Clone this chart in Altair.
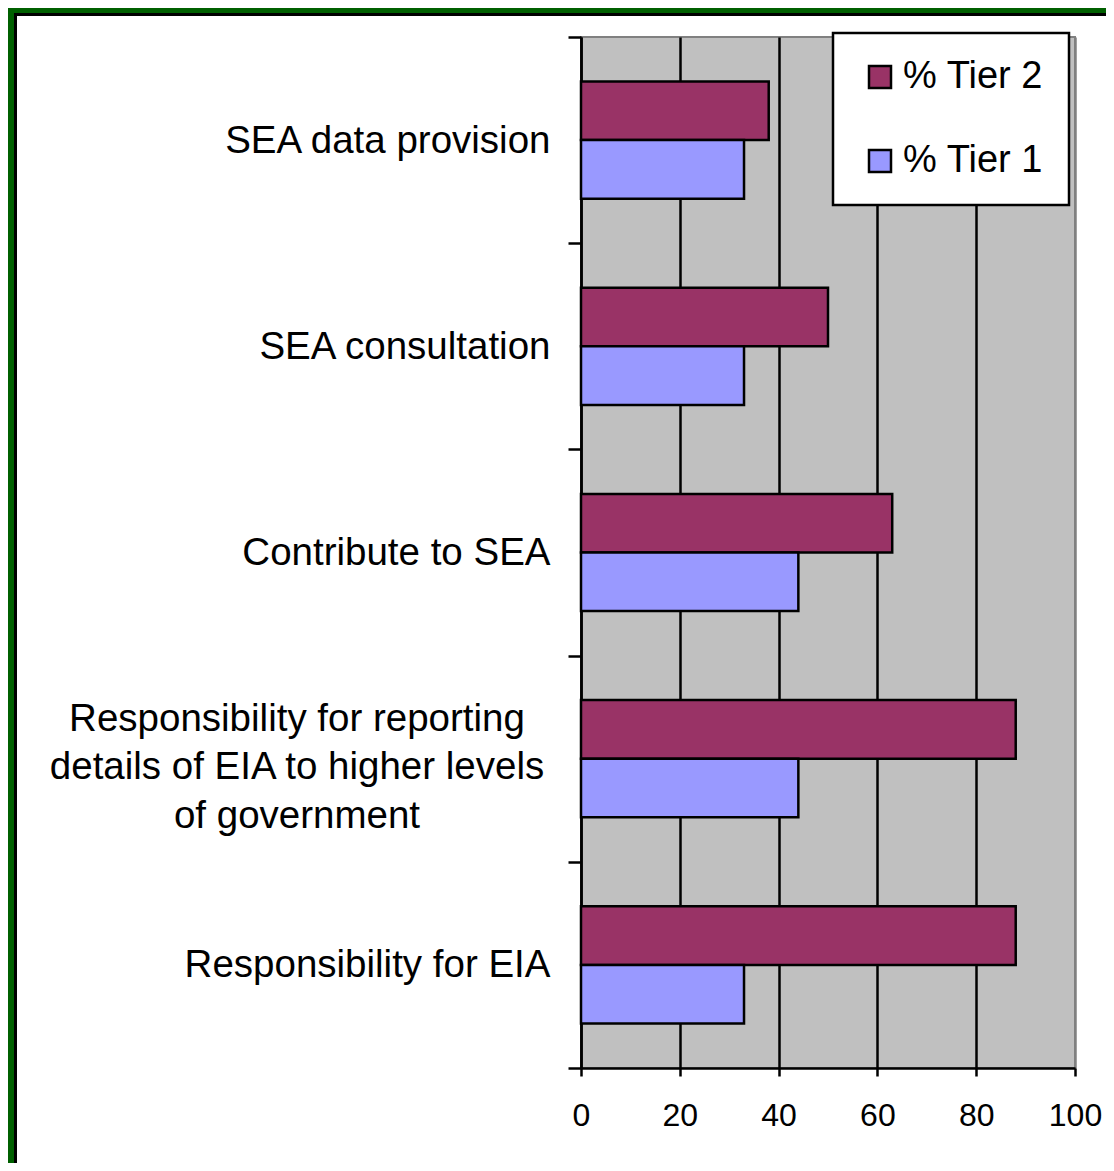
import altair as alt
import pandas as pd

# ---- data ----
categories = [
    "SEA data provision",
    "SEA consultation",
    "Contribute to SEA",
    "Responsibility for reporting\ndetails of EIA  to higher levels\nof government",
    "Responsibility for EIA",
]
tier2 = [38, 50, 63, 88, 88]
tier1 = [33, 33, 44, 44, 33]
series = ["% Tier 2", "% Tier 1"]
colors = ["#993366", "#9999FF"]
x_ticks = [0, 20, 40, 60, 80, 100]

rows = []
for c, v2, v1 in zip(categories, tier2, tier1):
    rows.append({"category": c, "series": series[0], "value": v2})
    rows.append({"category": c, "series": series[1], "value": v1})
df = pd.DataFrame(rows)

# ---- layout ----
W, H = 494, 1031
PAD_L, PAD_T = 573, 29
TOTAL_W, TOTAL_H = 1098, 1155
PAD_R = TOTAL_W - PAD_L - W
PAD_B = TOTAL_H - PAD_T - H
FONT = "Liberation Sans"
GREEN = "#006000"
LW = 2.5

y_axis = alt.Axis(
    title=None,
    tickBand="extent",
    domainColor="black",
    domainWidth=LW,
    tickColor="black",
    tickWidth=LW,
    tickSize=13,
    labelFont=FONT,
    labelFontSize=38.5,
    labelColor="black",
    labelPadding=18,
    labelLimit=800,
    labelOverlap=False,
    labelExpr="indexof(datum.label, '\\n') >= 0 ? '' : datum.label",
)

x_axis = alt.Axis(
    title=None,
    values=x_ticks,
    grid=True,
    gridColor={"condition": {"test": "datum.value === 100", "value": "#808080"}, "value": "black"},
    gridWidth=LW,
    gridOpacity=1,
    domainColor="black",
    domainWidth=LW,
    tickColor="black",
    tickWidth=LW,
    tickSize=8,
    labelFont=FONT,
    labelFontSize=32,
    labelColor="black",
    labelPadding=24,
    labelFlush=False,
    labelOverlap=False,
)

legend = alt.Legend(
    title=None,
    orient="none",
    legendX=252,
    legendY=-4,
    direction="vertical",
    fillColor="white",
    strokeColor="black",
    padding=25,
    symbolOffset=3,
    symbolType="square",
    symbolSize=484,
    symbolStrokeColor="black",
    symbolStrokeWidth=LW,
    labelFont=FONT,
    labelFontSize=38,
    labelColor="black",
    labelOffset=4,
    labelLimit=400,
    rowPadding=46,
)

bars = alt.Chart(df).mark_bar(stroke="black", strokeWidth=LW).encode(
    x=alt.X("value:Q", scale=alt.Scale(domain=[0, 100], nice=False), axis=x_axis),
    y=alt.Y("category:N", sort=categories,
            scale=alt.Scale(paddingInner=0, paddingOuter=0), axis=y_axis),
    yOffset=alt.YOffset("series:N", sort=series,
                        scale=alt.Scale(paddingInner=0, paddingOuter=0.76)),
    color=alt.Color("series:N", sort=series,
                    scale=alt.Scale(domain=series, range=colors), legend=legend),
)

multi_label = alt.Chart(df).transform_filter(
    "indexof(datum.category, '\\n') >= 0 && datum.series === '% Tier 2'"
).mark_text(
    align="center", baseline="middle", lineBreak="\n", font=FONT,
    fontSize=38.5, lineHeight=48.5, color="black", dy=-40,
).encode(
    y=alt.Y("category:N", sort=categories),
    x=alt.value(-284),
    text="category:N",
)

frame_data = alt.Data(values=[{"k": 0}])
green_left = alt.Chart(frame_data).mark_rect(color=GREEN).encode(
    x=alt.value(-PAD_L), x2=alt.value(-PAD_L + 6),
    y=alt.value(-PAD_T), y2=alt.value(H + PAD_B))
black_left = alt.Chart(frame_data).mark_rect(color="black").encode(
    x=alt.value(-PAD_L + 6), x2=alt.value(-PAD_L + 9),
    y=alt.value(-PAD_T + 5), y2=alt.value(H + PAD_B))
green_top = alt.Chart(frame_data).mark_rect(color=GREEN).encode(
    x=alt.value(-PAD_L), x2=alt.value(W + PAD_R),
    y=alt.value(-PAD_T), y2=alt.value(-PAD_T + 5))
black_top = alt.Chart(frame_data).mark_rect(color="black").encode(
    x=alt.value(-PAD_L + 6), x2=alt.value(W + PAD_R),
    y=alt.value(-PAD_T + 5), y2=alt.value(-PAD_T + 8))

chart = alt.layer(
    green_left, black_left, green_top, black_top, bars, multi_label
).properties(
    width=W,
    height=H,
    autosize=alt.AutoSizeParams(type="none"),
    padding={"left": PAD_L, "top": PAD_T, "right": PAD_R, "bottom": PAD_B},
    background="white",
).configure_view(
    fill="#C0C0C0", stroke="#808080", strokeWidth=2,
).configure_legend(
    strokeWidth=LW,
)

chart.save("out.html", embed_options={"renderer": "svg", "actions": False})
